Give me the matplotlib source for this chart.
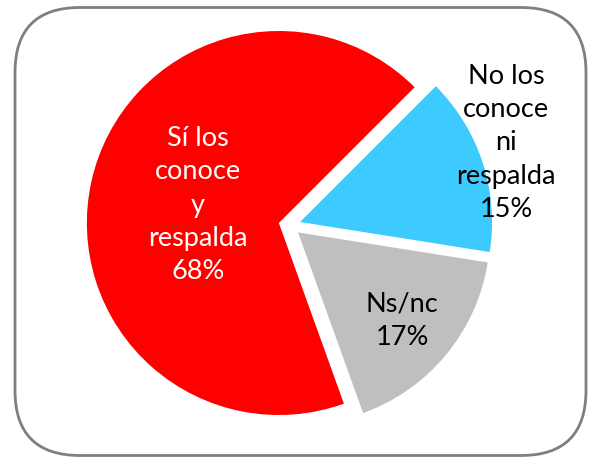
import numpy as np
import matplotlib.pyplot as plt
from matplotlib.patches import FancyBboxPatch

# data
labels = ["No los\nconoce\nni\nrespalda", "Ns/nc", "Sí los\nconoce\ny\nrespalda"]
values = [15, 17, 68]
colors = ["#3DCBFF", "#BFBFBF", "#FF0000"]
text_colors = ["black", "black", "white"]

W, H = 595, 457
fig = plt.figure(figsize=(W / 100, H / 100), dpi=100)
ax = fig.add_axes([0, 0, 1, 1])

# rounded frame
frame = FancyBboxPatch((15 + 65, 1.5 + 65), 571 - 130, 448 - 130,
                       boxstyle="round,pad=65", fc="white", ec="#7F7F7F", lw=2)
ax.add_patch(frame)

cx, cy, r = 289.6, H - 225.4, 192
wedges, _ = ax.pie(values, colors=colors, startangle=45, counterclock=False,
                   radius=r, center=(cx, cy), explode=[11, 11, 11],
                   wedgeprops=dict(linewidth=0), frame=True)
ax.set_xlim(0, W)
ax.set_ylim(0, H)
ax.set_aspect("equal")
ax.axis("off")

# label positions (pixels, top-left origin)
label_pos = [(506, 143), (402, 321), (198, 205)]
for lab, v, (lx, ly), tc in zip(labels, values, label_pos, text_colors):
    ax.text(lx, H - ly, f"{lab}\n{v}%", ha="center", va="center",
            color=tc, fontsize=19.5, family="Lato", linespacing=1.42)

fig.savefig("out.png", dpi=100)
